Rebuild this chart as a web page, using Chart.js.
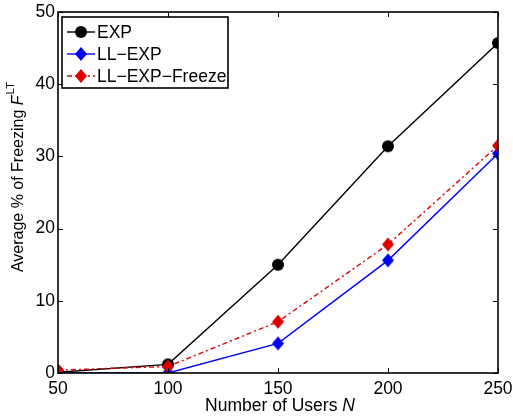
<!DOCTYPE html>
<html>
<head>
<meta charset="utf-8">
<script src="https://cdn.jsdelivr.net/npm/chart.js@4/dist/chart.umd.min.js"></script>
<style>
html,body{margin:0;padding:0;background:#fff;}
#wrap{width:513px;height:416px;position:relative;}
</style>
</head>
<body>
<div id="wrap"><canvas id="c" width="513" height="416"></canvas></div>
<script>
const users = [50, 100, 150, 200, 250];
const expVals = [0.1, 1.2, 15.0, 31.4, 45.7];
const llExpVals = [0, 0, 4.1, 15.6, 30.4];
const llExpFreezeVals = [0.4, 0.9, 7.1, 17.8, 31.5];
const xTicks = [50, 100, 150, 200, 250];
const yTicks = [0, 10, 20, 30, 40, 50];
const seriesNames = ['EXP', 'LL\u2212EXP', 'LL\u2212EXP\u2212Freeze'];

const FONT = '"Liberation Sans", Arial, Helvetica, sans-serif';
const FS = 17.5;
const RED = '#dd0000';
const BLUE = '#0000ff';

function pts(vals){ return users.map((u,i)=>({x:u, y:vals[i]})); }

function diamond(color){
  const c = document.createElement('canvas');
  c.width = 14; c.height = 16;
  const g = c.getContext('2d');
  g.fillStyle = color;
  g.beginPath();
  g.moveTo(7, 1); g.lineTo(13, 8); g.lineTo(7, 15); g.lineTo(1, 8); g.closePath();
  g.fill();
  return c;
}
function circle(color){
  const c = document.createElement('canvas');
  c.width = 14; c.height = 14;
  const g = c.getContext('2d');
  g.fillStyle = color;
  g.beginPath();
  g.arc(7, 7, 6, 0, Math.PI*2);
  g.fill();
  return c;
}
const mkBlack = circle('#000');
const mkBlue = diamond(BLUE);
const mkRed = diamond(RED);

const frame = {
  id: 'frame',
  afterDatasetsDraw(chart){
    const {ctx, chartArea:a, scales:{x, y}} = chart;
    ctx.save();
    ctx.strokeStyle = '#000';
    ctx.lineWidth = 1;
    const tl = 5;
    ctx.beginPath();
    xTicks.forEach(v=>{
      const px = Math.round(x.getPixelForValue(v)) + 0.5;
      ctx.moveTo(px, a.bottom); ctx.lineTo(px, a.bottom - tl);
      ctx.moveTo(px, a.top); ctx.lineTo(px, a.top + tl);
    });
    yTicks.forEach(v=>{
      const py = Math.round(y.getPixelForValue(v)) + 0.5;
      ctx.moveTo(a.left, py); ctx.lineTo(a.left + tl, py);
      ctx.moveTo(a.right, py); ctx.lineTo(a.right - tl, py);
    });
    ctx.stroke();
    ctx.lineWidth = 1.6;
    ctx.strokeRect(a.left, a.top, a.right - a.left, a.bottom - a.top);

    // legend
    const lx = 62, ly = 17, lw = 166, lh = 71;
    ctx.fillStyle = '#fff';
    ctx.fillRect(lx, ly, lw, lh);
    ctx.lineWidth = 1.6;
    ctx.strokeStyle = '#000';
    ctx.strokeRect(lx, ly, lw, lh);
    const rows = [32, 54, 76];
    chart.data.datasets.forEach((ds, i)=>{
      const ry = rows[i];
      ctx.save();
      ctx.strokeStyle = ds.borderColor;
      ctx.lineWidth = ds.borderWidth;
      ctx.setLineDash(ds.borderDash || []);
      ctx.beginPath();
      ctx.moveTo(67, ry); ctx.lineTo(95, ry);
      ctx.stroke();
      ctx.restore();
      const img = ds.pointStyle;
      ctx.drawImage(img, 81 - img.width/2, ry - img.height/2);
      ctx.fillStyle = '#000';
      ctx.font = FS + 'px ' + FONT;
      ctx.textBaseline = 'middle';
      ctx.textAlign = 'left';
      ctx.fillText(ds.label, 97, ry + 1);
    });

    // x title
    ctx.fillStyle = '#000';
    ctx.textBaseline = 'alphabetic';
    ctx.textAlign = 'left';
    const t1 = 'Number of Users ';
    ctx.font = 'italic ' + FS + 'px ' + FONT;
    const wN = ctx.measureText('N').width;
    ctx.font = FS + 'px ' + FONT;
    const w1 = ctx.measureText(t1).width;
    const cx = 280;
    const sx = cx - (w1 + wN)/2;
    ctx.fillText(t1, sx, 411);
    ctx.font = 'italic ' + FS + 'px ' + FONT;
    ctx.fillText('N', sx + w1, 411);

    // y title (rotated)
    ctx.save();
    ctx.translate(23, 177);
    ctx.rotate(-Math.PI/2);
    const s1 = 'Average % of Freezing ';
    const YF = 16;
    ctx.font = YF + 'px ' + FONT;
    const ws1 = ctx.measureText(s1).width;
    ctx.font = 'italic ' + YF + 'px ' + FONT;
    const wF = ctx.measureText('F').width;
    ctx.font = '11.5px ' + FONT;
    const wLT = ctx.measureText('LT').width;
    const total = ws1 + wF + 1 + wLT;
    const tx = -total/2;
    ctx.font = YF + 'px ' + FONT;
    ctx.fillText(s1, tx, 0);
    ctx.font = 'italic ' + YF + 'px ' + FONT;
    ctx.fillText('F', tx + ws1, 0);
    ctx.font = '11.5px ' + FONT;
    ctx.fillText('LT', tx + ws1 + wF + 1, -9);
    ctx.restore();

    ctx.restore();
  }
};

new Chart(document.getElementById('c'), {
  type: 'line',
  data: {
    datasets: [
      {
        label: seriesNames[0], data: pts(expVals),
        borderColor: '#000', backgroundColor: '#000', borderWidth: 1.4,
        pointStyle: mkBlack, pointRadius: 6,
        order: 2
      },
      {
        label: seriesNames[1], data: pts(llExpVals),
        borderColor: BLUE, backgroundColor: BLUE, borderWidth: 1.4,
        pointStyle: mkBlue, pointRadius: 7,
        order: 1
      },
      {
        label: seriesNames[2], data: pts(llExpFreezeVals),
        borderColor: RED, backgroundColor: RED, borderWidth: 1.4, borderDash: [5, 3, 2, 3],
        pointStyle: mkRed, pointRadius: 7,
        order: 0
      }
    ]
  },
  options: {
    responsive: false,
    animation: false,
    layout: { padding: { top: 12, right: 15, left: 0, bottom: 0 } },
    plugins: { legend: { display: false }, tooltip: { enabled: false } },
    scales: {
      x: {
        type: 'linear', min: 50, max: 250,
        afterFit(s){ s.height = 43; s.paddingLeft = 0; s.paddingRight = 0; },
        afterBuildTicks(s){ s.ticks = xTicks.map(v=>({value:v})); },
        grid: { display: false, drawTicks: false },
        border: { display: false },
        ticks: { color: '#000', font: { family: FONT, size: FS }, padding: 6, maxRotation: 0, autoSkip: false }
      },
      y: {
        min: 0, max: 50,
        afterFit(s){ s.width = 58; s.paddingTop = 0; s.paddingBottom = 0; },
        afterBuildTicks(s){ s.ticks = yTicks.map(v=>({value:v})); },
        grid: { display: false, drawTicks: false },
        border: { display: false },
        ticks: { color: '#000', font: { family: FONT, size: FS }, padding: 3 }
      }
    }
  },
  plugins: [frame]
});
</script>
</body>
</html>
